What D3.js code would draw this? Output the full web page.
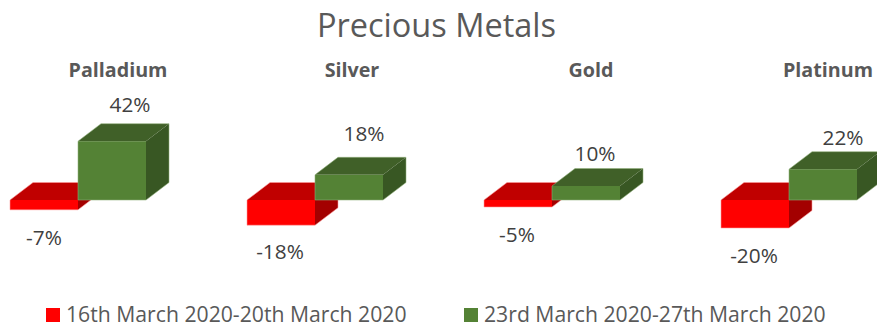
<!DOCTYPE html>
<html>
<head>
<meta charset="utf-8">
<script src="https://cdn.jsdelivr.net/npm/d3@7/dist/d3.min.js"></script>
<style>
html,body{margin:0;padding:0;background:#fff;overflow:hidden}
svg{display:block}
text{font-family:"Open Sans","Noto Sans",sans-serif}
</style>
</head>
<body>
<svg id="chart" width="877" height="327"></svg>
<script>
const metals = ["Palladium", "Silver", "Gold", "Platinum"];
const weekOneChange = [-7, -18, -5, -20];
const weekTwoChange = [42, 18, 10, 22];
const weekLabels = ["16th March 2020-20th March 2020", "23rd March 2020-27th March 2020"];
const chartTitle = "Precious Metals";

// Layout
const depthX = 23, depthY = 17.5;
const svg = d3.select("#chart");

const groupX = d3.scaleBand().domain(metals).range([10, 857]).paddingInner(101 / 237).paddingOuter(0).align(0);
const barX = d3.scaleBand().domain([0, 1]).range([0, groupX.bandwidth()]);
const y = d3.scaleLinear().domain([0, 42]).range([200, 141.2]);

const palette = [
  {front: "#ff0000", top: "#c00000", side: "#a30000", edge: "#ff9a9a"},
  {front: "#548235", top: "#406028", side: "#385723", edge: "#8fb07a"}
];

// Hand placement of the names and value labels relative to each group start / value top
const titleNudge = {Palladium: 108, Silver: 105, Gold: 107, Platinum: 107};
const labelNudge = {
  0: {Palladium: [34, 28], Silver: [33, 27], Gold: [33, 28], Platinum: [33, 28]},
  1: {Palladium: [120, -36], Silver: [117, -41], Gold: [111, -32], Platinum: [122, -31.5]}
};

svg.append("text").attr("x", 436.5).attr("y", 37).attr("text-anchor", "middle")
  .attr("font-size", 32.5).attr("fill", "#595959").text(chartTitle);

// A bar is a front face plus a top and a right side sheared back by the depth
function box(g, x0, w, v, c) {
  const yA = y(Math.max(v, 0)), yB = y(Math.min(v, 0));
  const pts = a => a.map(p => p.join(",")).join(" ");
  g.append("polygon").attr("points", pts([[x0 + w, yA], [x0 + w + depthX, yA - depthY], [x0 + w + depthX, yB - depthY], [x0 + w, yB]]))
    .attr("fill", c.side);
  g.append("polygon").attr("points", pts([[x0, yA], [x0 + depthX, yA - depthY], [x0 + w + depthX, yA - depthY], [x0 + w, yA]]))
    .attr("fill", c.top);
  g.append("rect").attr("x", x0).attr("y", yA).attr("width", w).attr("height", yB - yA)
    .attr("fill", c.front);
  g.append("path").attr("fill", "none").attr("stroke", c.edge).attr("stroke-width", 0.8).attr("stroke-opacity", 0.7)
    .attr("d", `M${x0},${yB}H${x0 + w}L${x0 + w + depthX},${yB - depthY}V${yA - depthY}H${x0 + depthX}L${x0},${yA}Z`);
}

metals.forEach((m, i) => {
  const gx = groupX(m);
  const g = svg.append("g");
  const series = [weekOneChange[i], weekTwoChange[i]];

  g.append("text").attr("x", gx + titleNudge[m])
    .attr("y", 77).attr("text-anchor", "middle")
    .attr("font-size", 19.7).attr("font-weight", 700).attr("fill", "#595959").text(m);

  series.forEach((v, s) => box(g, gx + barX(s), barX.bandwidth(), v, palette[s]));

  series.forEach((v, s) => {
    const [dx, dy] = labelNudge[s][m];
    g.append("text").attr("x", gx + dx)
      .attr("y", y(v) + dy + 7)
      .attr("text-anchor", "middle").attr("font-size", 20.8).attr("fill", "#404040")
      .text(v + "%");
  });
});

// Legend
const legendX = [46, 464];
weekLabels.forEach((t, s) => {
  svg.append("rect").attr("x", legendX[s]).attr("y", 308).attr("width", 14).attr("height", 14).attr("fill", palette[s].front);
  svg.append("text").attr("x", legendX[s] + 20).attr("y", 322)
    .attr("font-size", 21.2).attr("fill", "#595959").text(t);
});
</script>
</body>
</html>
